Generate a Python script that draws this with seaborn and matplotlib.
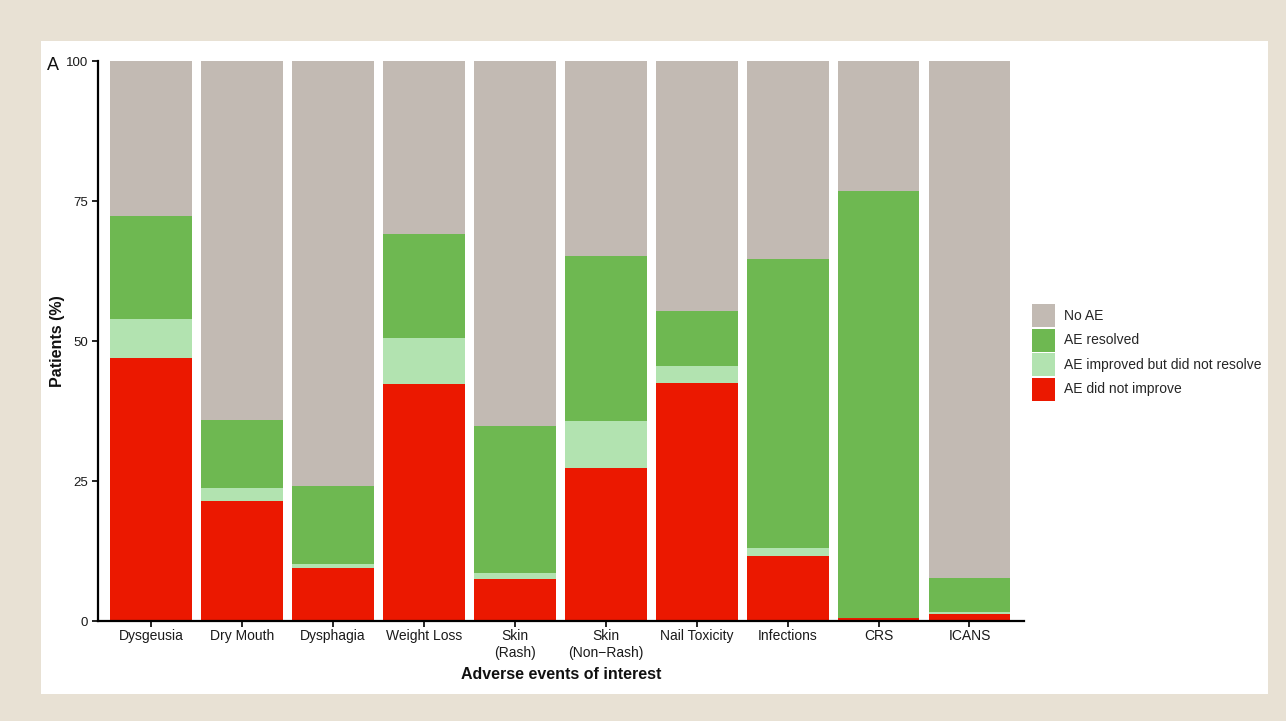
import matplotlib
matplotlib.use("Agg")
import matplotlib.pyplot as plt
from matplotlib.patches import Patch, Rectangle
import numpy as np
import pandas as pd
import seaborn as sns

# Adverse events and the share of patients (%) in each outcome group
categories = ["Dysgeusia", "Dry Mouth", "Dysphagia", "Weight Loss", "Skin\n(Rash)",
              "Skin\n(Non\u2212Rash)", "Nail Toxicity", "Infections", "CRS", "ICANS"]
did_not_improve = [47.0, 21.5, 9.5, 42.3, 7.5, 27.3, 42.5, 11.6, 0.6, 1.3]
improved_not_resolved = [7.0, 2.2, 0.6, 8.2, 1.1, 8.4, 3.0, 1.4, 0.0, 0.3]
resolved = [18.3, 12.3, 14.1, 18.6, 26.3, 29.5, 9.9, 51.6, 76.2, 6.1]
# "No AE" fills the remainder up to 100 %

series_names = ["No AE", "AE resolved", "AE improved but did not resolve", "AE did not improve"]
series_colors = ["#C2BAB3", "#6EB851", "#B2E3B0", "#EB1800"]

sns.set_theme(style="white")
plt.rcParams["font.family"] = ["Liberation Sans", "DejaVu Sans"]

fig = plt.figure(figsize=(12.86, 7.21), dpi=100)
fig.patch.set_facecolor("#E8E1D4")
W, H = 1286, 721
# white panel inside the beige frame
fig.add_artist(Rectangle((41 / W, 1 - 694 / H), (1268 - 41) / W, (694 - 41) / H,
                         transform=fig.transFigure, facecolor="white", edgecolor="none", zorder=0))

ax = fig.add_axes([98 / W, 1 - 621 / H, (1024 - 98) / W, (621 - 61.3) / H])
ax.set_facecolor("white")

red = np.array(did_not_improve)
light = red + np.array(improved_not_resolved)
green = light + np.array(resolved)
total = np.full(len(categories), 100.0)

df = pd.DataFrame({"event": categories, "No AE": total, "AE resolved": green,
                   "AE improved but did not resolve": light, "AE did not improve": red})

# stacked bars: draw cumulative tops from the tallest down
for name, color in zip(series_names, series_colors):
    sns.barplot(data=df, x="event", y=name, order=categories, color=color,
                width=0.9, saturation=1, ax=ax, linewidth=0)

ax.set_xlim(-0.586, 9.6)
ax.set_ylim(0, 100)
ax.set_yticks([0, 25, 50, 75, 100])
ax.set_yticklabels(["0", "25", "50", "75", "100"])

for side in ["top", "right"]:
    ax.spines[side].set_visible(False)
for side in ["left", "bottom"]:
    ax.spines[side].set_color("black")
    ax.spines[side].set_linewidth(1.6)

ax.tick_params(axis="both", which="major", direction="out", length=4.5, width=1.2,
               color="black", labelcolor="#1a1a1a", bottom=True, left=True)
ax.tick_params(axis="y", labelsize=9.5, pad=2.5)
ax.tick_params(axis="x", labelsize=10, pad=1.5)
for lbl in ax.get_xticklabels():
    lbl.set_linespacing(1.22)

ax.set_xlabel("Adverse events of interest", fontsize=11.5, fontweight="bold", color="#111111", labelpad=5)
ax.set_ylabel("Patients (%)", fontsize=11.5, fontweight="bold", color="#111111")
ax.yaxis.set_label_coords(-0.036, 0.5)

fig.text(47 / W, 1 - 70 / H, "A", fontsize=13, ha="left", va="baseline", color="#111111")

handles = [Patch(facecolor=c, edgecolor="none") for c in series_colors]
fig.legend(handles, series_names, loc="upper left",
           bbox_to_anchor=(1032 / W, 1 - 304 / H), bbox_transform=fig.transFigure,
           frameon=False, fontsize=10, handlelength=1.65, handleheight=2.17,
           labelspacing=0.11, handletextpad=0.65, borderpad=0, borderaxespad=0)

fig.savefig("out.png", dpi=100, facecolor=fig.get_facecolor())
